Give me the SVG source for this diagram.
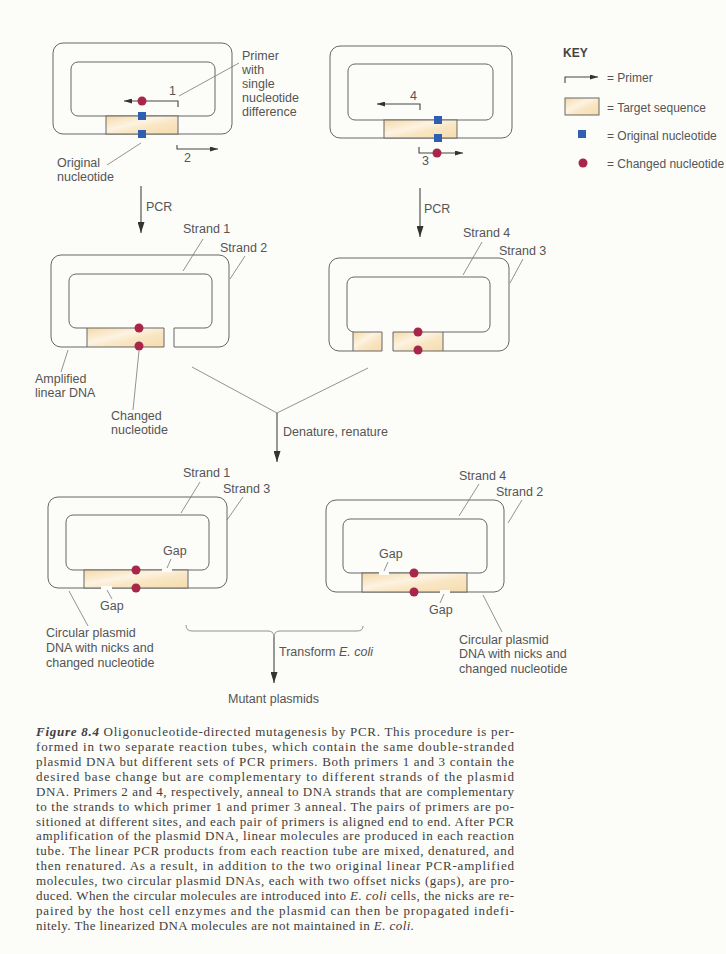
<svg xmlns="http://www.w3.org/2000/svg" width="726" height="954" viewBox="0 0 726 954">
<style>
.s{fill:none;stroke:#666;stroke-width:1}
.l{fill:none;stroke:#777;stroke-width:0.8}
.a{fill:none;stroke:#444;stroke-width:1.1}
.t{font-family:"Liberation Sans",Arial,sans-serif;font-size:12.5px;fill:#555}
.kt{font-family:"Liberation Sans",Arial,sans-serif;font-size:12px;fill:#555}
.k{font-family:"Liberation Sans",Arial,sans-serif;font-size:12px;fill:#444;font-weight:bold}
.c{font-family:"Liberation Serif","Times New Roman",serif;font-size:13px;fill:#404040}
.tg{fill:url(#tgt);stroke:none}
.bl{fill:#2f5fb0}
.rd{fill:#a8264a}
.gp{fill:#fcfcf9;stroke:none}
</style>
<defs>
<linearGradient id="tgt" x1="0" y1="0" x2="1" y2="1">
<stop offset="0" stop-color="#f4d9a6"/>
<stop offset="0.4" stop-color="#fdf3e2"/>
<stop offset="0.6" stop-color="#f9e6c4"/>
<stop offset="1" stop-color="#f5dcad"/>
</linearGradient>
<marker id="ah" markerUnits="userSpaceOnUse" viewBox="0 0 11 7" refX="11" refY="3.5" markerWidth="11" markerHeight="7" orient="auto">
<path d="M0,0 L11,3.5 L0,7 Z" fill="#333"/>
</marker>
<marker id="ph" markerUnits="userSpaceOnUse" viewBox="0 0 8 5" refX="8" refY="2.5" markerWidth="8" markerHeight="5" orient="auto">
<path d="M0,0 L8,2.5 L0,5 Z" fill="#333"/>
</marker>
</defs>
<rect x="0" y="0" width="726" height="954" fill="#fcfcf9"/>

<!-- Top-left plasmid -->
<g id="plasmid-tl">
<rect x="53" y="43" width="179" height="91" rx="10" class="s"/>
<rect x="71" y="62" width="144" height="54" rx="7" class="s"/>
<rect x="106" y="116" width="72" height="18" class="tg"/>
<rect x="106" y="116" width="72" height="18" class="s"/>
<rect x="138" y="112" width="8" height="8" class="bl"/>
<rect x="138" y="130" width="8" height="8" class="bl"/>
<path d="M178,107 V101 H124" class="a" marker-end="url(#ph)"/>
<circle cx="142" cy="101" r="4.5" class="rd"/>
<text x="169" y="95" class="t">1</text>
<path d="M177,145 V149 H218" class="a" marker-end="url(#ph)"/>
<text x="184" y="162" class="t">2</text>
<line x1="179" y1="96" x2="239" y2="63" class="l"/>
<text class="t"><tspan x="242" y="60">Primer</tspan><tspan x="242" y="74">with</tspan><tspan x="242" y="88">single</tspan><tspan x="242" y="102">nucleotide</tspan><tspan x="242" y="116">difference</tspan></text>
<line x1="107" y1="165" x2="141" y2="143" class="l"/>
<text class="t"><tspan x="57" y="167">Original</tspan><tspan x="57" y="181">nucleotide</tspan></text>
</g>

<!-- Top-right plasmid -->
<g id="plasmid-tr">
<rect x="330" y="46" width="182" height="92" rx="10" class="s"/>
<rect x="348" y="64" width="145" height="56" rx="7" class="s"/>
<rect x="384" y="120" width="73" height="18" class="tg"/>
<rect x="384" y="120" width="73" height="18" class="s"/>
<rect x="434" y="116" width="8" height="8" class="bl"/>
<rect x="434" y="134" width="8" height="8" class="bl"/>
<path d="M420,110 V104 H377" class="a" marker-end="url(#ph)"/>
<text x="410" y="100" class="t">4</text>
<path d="M419,147 V153 H463" class="a" marker-end="url(#ph)"/>
<circle cx="437" cy="153" r="4.5" class="rd"/>
<text x="422" y="165" class="t">3</text>
</g>

<!-- Key -->
<g id="key">
<text x="563" y="57" class="k">KEY</text>
<path d="M565,83 V77 H598" class="a" marker-end="url(#ph)"/>
<text x="607" y="82" class="kt">= Primer</text>
<rect x="565" y="98" width="34" height="17" class="tg"/>
<rect x="565" y="98" width="34" height="17" class="s"/>
<text x="607" y="112" class="kt">= Target sequence</text>
<rect x="578" y="130" width="8" height="8" class="bl"/>
<text x="607" y="140" class="kt">= Original nucleotide</text>
<circle cx="583" cy="163" r="4.5" class="rd"/>
<text x="607" y="168" class="kt">= Changed nucleotide</text>
</g>

<!-- Middle-left linear DNA -->
<g id="linear-l">
<rect x="87" y="328" width="77" height="19" class="tg"/>
<path d="M164,347 H61 A10,10 0 0 1 51,337 V265 A10,10 0 0 1 61,255 H219 A10,10 0 0 1 229,265 V337 A10,10 0 0 1 219,347 H174 V328 H205 A7,7 0 0 0 212,321 V281 A7,7 0 0 0 205,274 H76 A7,7 0 0 0 69,281 V321 A7,7 0 0 0 76,328 H164 Z" class="s"/>
<line x1="87" y1="328" x2="87" y2="347" class="s"/>
<circle cx="139" cy="328" r="4.5" class="rd"/>
<circle cx="139" cy="346" r="4.5" class="rd"/>
<text x="183" y="233" class="t">Strand 1</text>
<line x1="203" y1="239" x2="183" y2="271" class="l"/>
<text x="220" y="252" class="t">Strand 2</text>
<line x1="245" y1="256" x2="230" y2="279" class="l"/>
<line x1="68" y1="350" x2="61" y2="372" class="l"/>
<text class="t"><tspan x="35" y="383">Amplified</tspan><tspan x="35" y="397">linear DNA</tspan></text>
<line x1="139" y1="351" x2="133" y2="410" class="l"/>
<text class="t"><tspan x="111" y="420">Changed</tspan><tspan x="111" y="434">nucleotide</tspan></text>
</g>

<!-- Middle-right linear DNA -->
<g id="linear-r">
<rect x="353" y="332" width="29" height="19" class="tg"/>
<rect x="393" y="332" width="50" height="19" class="tg"/>
<path d="M382,351 H339 A10,10 0 0 1 329,341 V268 A10,10 0 0 1 339,258 H499 A10,10 0 0 1 509,268 V341 A10,10 0 0 1 499,351 H393 V332 H483 A7,7 0 0 0 490,325 V284 A7,7 0 0 0 483,277 H354 A7,7 0 0 0 347,284 V325 A7,7 0 0 0 354,332 H382 Z" class="s"/>
<line x1="353" y1="332" x2="353" y2="351" class="s"/>
<line x1="443" y1="332" x2="443" y2="351" class="s"/>
<circle cx="418" cy="332" r="4.5" class="rd"/>
<circle cx="418" cy="350" r="4.5" class="rd"/>
<text x="463" y="237" class="t">Strand 4</text>
<line x1="482" y1="242" x2="463" y2="275" class="l"/>
<text x="499" y="255" class="t">Strand 3</text>
<line x1="523" y1="259" x2="510" y2="283" class="l"/>
</g>

<!-- Bottom-left circular plasmid -->
<g id="circular-l">
<rect x="48" y="497" width="179" height="91" rx="10" class="s"/>
<rect x="66" y="515" width="143" height="55" rx="7" class="s"/>
<rect x="84" y="570" width="104" height="18" class="tg"/>
<rect x="84" y="570" width="104" height="18" class="s"/>
<rect x="162" y="568" width="10" height="4" class="gp"/>
<rect x="101" y="586" width="11" height="4" class="gp"/>
<circle cx="136" cy="570" r="4.5" class="rd"/>
<circle cx="136" cy="588" r="4.5" class="rd"/>
<text x="183" y="477" class="t">Strand 1</text>
<line x1="200" y1="482" x2="181" y2="513" class="l"/>
<text x="223" y="493" class="t">Strand 3</text>
<line x1="243" y1="497" x2="227" y2="520" class="l"/>
<text x="163" y="555" class="t">Gap</text>
<line x1="171" y1="559" x2="167" y2="568" class="l"/>
<text x="100" y="610" class="t">Gap</text>
<line x1="107" y1="590" x2="112" y2="599" class="l"/>
<line x1="69" y1="591" x2="88" y2="626" class="l"/>
<text class="t"><tspan x="46" y="637">Circular plasmid</tspan><tspan x="46" y="652">DNA with nicks and</tspan><tspan x="46" y="667">changed nucleotide</tspan></text>
</g>

<!-- Bottom-right circular plasmid -->
<g id="circular-r">
<rect x="326" y="500" width="178" height="92" rx="10" class="s"/>
<rect x="343" y="519" width="144" height="54" rx="7" class="s"/>
<rect x="362" y="573" width="105" height="19" class="tg"/>
<rect x="362" y="573" width="105" height="19" class="s"/>
<rect x="379" y="571" width="10" height="4" class="gp"/>
<rect x="440" y="590" width="10" height="4" class="gp"/>
<circle cx="414" cy="573" r="4.5" class="rd"/>
<circle cx="414" cy="592" r="4.5" class="rd"/>
<text x="459" y="480" class="t">Strand 4</text>
<line x1="479" y1="484" x2="459" y2="516" class="l"/>
<text x="496" y="496" class="t">Strand 2</text>
<line x1="522" y1="500" x2="508" y2="523" class="l"/>
<text x="379" y="558" class="t">Gap</text>
<line x1="388" y1="562" x2="384" y2="571" class="l"/>
<text x="429" y="614" class="t">Gap</text>
<line x1="444" y1="594" x2="440" y2="603" class="l"/>
<line x1="483" y1="595" x2="502" y2="632" class="l"/>
<text class="t"><tspan x="459" y="644">Circular plasmid</tspan><tspan x="459" y="658">DNA with nicks and</tspan><tspan x="459" y="673">changed nucleotide</tspan></text>
</g>

<g id="result">
<text x="228" y="703" class="t">Mutant plasmids</text>
</g>

<!-- Connectors -->
<g id="connectors">
<line x1="141" y1="186" x2="141" y2="233" class="a" marker-end="url(#ah)"/>
<text x="146" y="211" class="t">PCR</text>
<line x1="420" y1="188" x2="420" y2="237" class="a" marker-end="url(#ah)"/>
<text x="424" y="213" class="t">PCR</text>
<path d="M192,367 L277,413 L368,368" class="l"/>
<line x1="277" y1="413" x2="277" y2="462" class="a" marker-end="url(#ah)"/>
<text x="283" y="436" class="t">Denature, renature</text>
<path d="M186,625 Q186,631 192,631 H268 Q274,631 274,637 Q274,631 280,631 H357 Q363,631 363,626" class="l"/>
<line x1="274" y1="637" x2="274" y2="683" class="a" marker-end="url(#ah)"/>
<text x="279" y="656" class="t">Transform <tspan font-style="italic">E. coli</tspan></text>
</g>

<!-- Caption -->
<g id="caption">
<text x="36" y="736" class="c" textLength="478" lengthAdjust="spacing"><tspan font-weight="bold" font-style="italic">Figure 8.4</tspan>   Oligonucleotide-directed mutagenesis by PCR. This procedure is per-</text>
<text x="36" y="751" class="c" textLength="478" lengthAdjust="spacing">formed in two separate reaction tubes, which contain the same double-stranded</text>
<text x="36" y="766" class="c" textLength="478" lengthAdjust="spacing">plasmid DNA but different sets of PCR primers. Both primers 1 and 3 contain the</text>
<text x="36" y="781" class="c" textLength="478" lengthAdjust="spacing">desired base change but are complementary to different strands of the plasmid</text>
<text x="36" y="796" class="c" textLength="478" lengthAdjust="spacing">DNA. Primers 2 and 4, respectively, anneal to DNA strands that are complementary</text>
<text x="36" y="811" class="c" textLength="478" lengthAdjust="spacing">to the strands to which primer 1 and primer 3 anneal. The pairs of primers are po-</text>
<text x="36" y="826" class="c" textLength="478" lengthAdjust="spacing">sitioned at different sites, and each pair of primers is aligned end to end. After PCR</text>
<text x="36" y="840" class="c" textLength="478" lengthAdjust="spacing">amplification of the plasmid DNA, linear molecules are produced in each reaction</text>
<text x="36" y="855" class="c" textLength="478" lengthAdjust="spacing">tube. The linear PCR products from each reaction tube are mixed, denatured, and</text>
<text x="36" y="870" class="c" textLength="478" lengthAdjust="spacing">then renatured. As a result, in addition to the two original linear PCR-amplified</text>
<text x="36" y="885" class="c" textLength="478" lengthAdjust="spacing">molecules, two circular plasmid DNAs, each with two offset nicks (gaps), are pro-</text>
<text x="36" y="900" class="c" textLength="478" lengthAdjust="spacing">duced. When the circular molecules are introduced into <tspan font-style="italic">E. coli</tspan> cells, the nicks are re-</text>
<text x="36" y="915" class="c" textLength="478" lengthAdjust="spacing">paired by the host cell enzymes and the plasmid can then be propagated indefi-</text>
<text x="36" y="930" class="c" textLength="378" lengthAdjust="spacing">nitely. The linearized DNA molecules are not maintained in <tspan font-style="italic">E. coli.</tspan></text>
</g>
</svg>
